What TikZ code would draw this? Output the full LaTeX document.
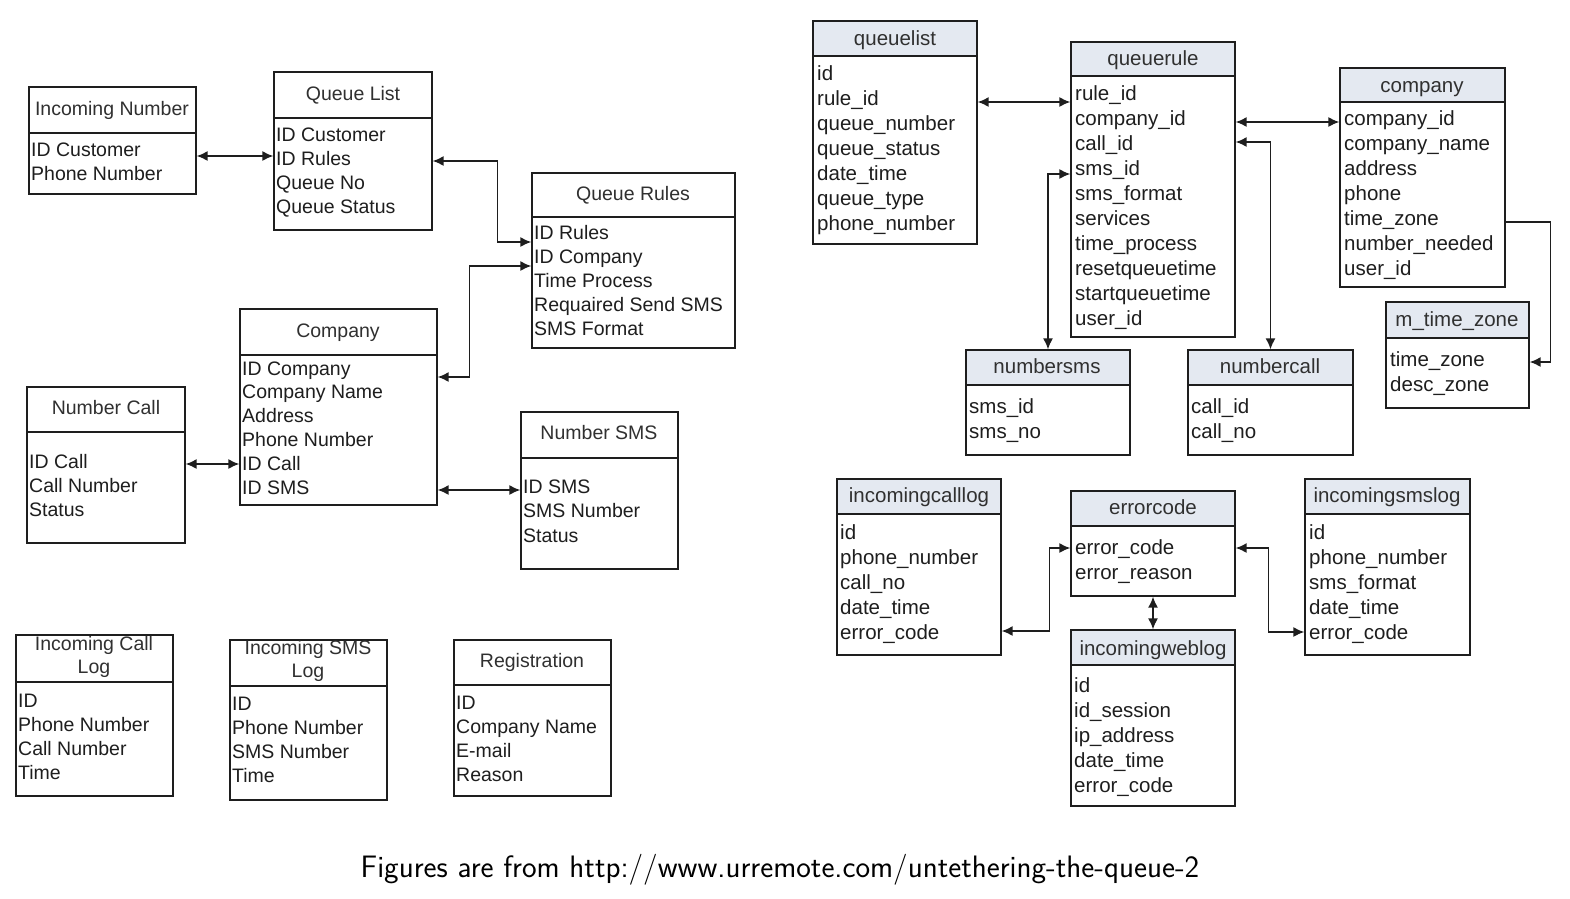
\documentclass[tikz,border=0pt]{standalone}
\usepackage{fontspec}
\setmainfont{Liberation Sans}
\usetikzlibrary{arrows.meta}
\definecolor{hdrblue}{HTML}{E4E9F1}
\definecolor{ink}{HTML}{1E1E1E}
\definecolor{ttlgray}{HTML}{303030}
\newcommand\ertab[7]{%
  \fill[#7] (#2,#3) rectangle (#4,#6);
  \node[tbox, minimum width={(#4-#2)*1pt}, minimum height={(#5-#3)*1pt}] (#1) at ({(#2+#4)/2},{(#3+#5)/2}) {};
  \draw[sepline] (#1.west |- 0,#6) -- (#1.east |- 0,#6);
}
\newcommand\ertrows[6]{%
  \foreach \t [count=\i from 0] in {#5} \node[#6] (#1-\i) at (#2,{#3+#4*\i}) {\t};
}
\tikzset{
  tbox/.style={draw=ink, line width=1.3pt, inner sep=0pt},
  sepline/.style={draw=ink, line width=2pt},
  hl/.style={fill=white},
  hr/.style={fill=hdrblue},
  ttlL/.style={font=\fontsize{19.5}{23}\selectfont, text=ttlgray, anchor=base, inner sep=0pt, align=center},
  ttlR/.style={font=\fontsize{20.5}{25}\selectfont, text=ttlgray, anchor=base, inner sep=0pt},
  rowL/.style={font=\fontsize{19.5}{24}\selectfont, text=ink, anchor=base west, inner sep=0pt},
  rowR/.style={font=\fontsize{20.5}{25}\selectfont, text=ink, anchor=base west, inner sep=0pt},
  conn/.style={draw=ink, line width=1.6pt},
  both/.style={conn, {Latex[length=11pt,width=10pt]}-{Latex[length=11pt,width=10pt]}},
  one/.style={conn, -{Latex[length=11pt,width=10pt]}},
}
\begin{document}
\begin{tikzpicture}[x=1pt,y=-1pt]
\useasboundingbox (0,0) rectangle (1570,898);
\fill[white] (0,0) rectangle (1570,898);

% ---------------- left diagram ----------------
\ertab{inum}{29}{87}{196}{194}{133}{hl}
\node[ttlL] (inum-t) at (112,115) {Incoming Number};
\ertrows{inum}{31}{156}{24}{ID Customer,Phone Number}{rowL}

\ertab{qlist}{274}{72}{432}{230}{118}{hl}
\node[ttlL] (qlist-t) at (353,100) {Queue List};
\ertrows{qlist}{276}{141}{24.3}{ID Customer,ID Rules,Queue No,Queue Status}{rowL}

\ertab{qrules}{532}{173}{735}{348}{217}{hl}
\node[ttlL] (qrules-t) at (633,200) {Queue Rules};
\ertrows{qrules}{534}{239}{24}{ID Rules,ID Company,Time Process,Requaired Send SMS,SMS Format}{rowL}

\ertab{comp}{240}{309}{437}{505}{355}{hl}
\node[ttlL] (comp-t) at (338,337) {Company};
\ertrows{comp}{242}{375}{23.8}{ID Company,Company Name,Address,Phone Number,ID Call,ID SMS}{rowL}

\ertab{ncall}{27}{387}{185}{543}{432}{hl}
\node[ttlL] (ncall-t) at (106,414) {Number Call};
\ertrows{ncall}{29}{468}{24}{ID Call,Call Number,Status}{rowL}

\ertab{nsms}{521}{412}{678}{569}{458}{hl}
\node[ttlL] (nsms-t) at (599,439) {Number SMS};
\ertrows{nsms}{523}{493}{24.5}{ID SMS,SMS Number,Status}{rowL}

\ertab{icl}{16}{635}{173}{796}{682}{hl}
\node[ttlL, anchor=center] (icl-t) at (94,657) {Incoming Call\\Log};
\ertrows{icl}{18}{707}{24}{ID,Phone Number,Call Number,Time}{rowL}

\ertab{isl}{230}{640}{387}{800}{686}{hl}
\node[ttlL, anchor=center] (isl-t) at (308,661) {Incoming SMS\\Log};
\ertrows{isl}{232}{710}{24.3}{ID,Phone Number,SMS Number,Time}{rowL}

\ertab{reg}{454}{640}{611}{796}{685}{hl}
\node[ttlL] (reg-t) at (532,667) {Registration};
\ertrows{reg}{456}{709}{24}{ID,Company Name,E-mail,Reason}{rowL}

% left connectors
\draw[both] (inum.east |- 0,156) -- (qlist.west |- 0,156);
\draw[both] (qlist.east |- 0,161) -- ++(65,0) |- (qrules.west |- 0,242);
\draw[both] (comp.east |- 0,377) -- ++(32,0) |- (qrules.west |- 0,266);
\draw[both] (ncall.east |- 0,464) -- (comp.west |- 0,464);
\draw[both] (comp.east |- 0,490) -- (nsms.west |- 0,490);

% ---------------- right diagram ----------------
\ertab{rql}{813}{21}{977}{244}{56}{hr}
\node[ttlR] (rql-t) at (895,45) {queuelist};
\ertrows{rql}{817}{80}{25.1}{id,rule\_id,queue\_number,queue\_status,date\_time,queue\_type,phone\_number}{rowR}

\ertab{rqr}{1071}{42}{1235}{337}{76}{hr}
\node[ttlR] (rqr-t) at (1153,65) {queuerule};
\ertrows{rqr}{1075}{100}{25}{rule\_id,company\_id,call\_id,sms\_id,sms\_format,services,time\_process,resetqueuetime,startqueuetime,user\_id}{rowR}

\ertab{rco}{1340}{68}{1505}{287}{102}{hr}
\node[ttlR] (rco-t) at (1422,92) {company};
\ertrows{rco}{1344}{125}{25}{company\_id,company\_name,address,phone,time\_zone,number\_needed,user\_id}{rowR}

\ertab{rtz}{1386}{302}{1529}{408}{338}{hr}
\node[ttlR] (rtz-t) at (1457,326) {m\_time\_zone};
\ertrows{rtz}{1390}{366}{25}{time\_zone,desc\_zone}{rowR}

\ertab{rns}{966}{350}{1130}{455}{385}{hr}
\node[ttlR] (rns-t) at (1047,373) {numbersms};
\ertrows{rns}{969}{413}{25}{sms\_id,sms\_no}{rowR}

\ertab{rnc}{1188}{350}{1353}{455}{385}{hr}
\node[ttlR] (rnc-t) at (1270,373) {numbercall};
\ertrows{rnc}{1191}{413}{25}{call\_id,call\_no}{rowR}

\ertab{ricl}{837}{479}{1001}{655}{514}{hr}
\node[ttlR] (ricl-t) at (919,502) {incomingcalllog};
\ertrows{ricl}{840}{539}{25}{id,phone\_number,call\_no,date\_time,error\_code}{rowR}

\ertab{rerr}{1071}{491}{1235}{596}{526}{hr}
\node[ttlR] (rerr-t) at (1153,514) {errorcode};
\ertrows{rerr}{1075}{554}{25}{error\_code,error\_reason}{rowR}

\ertab{risl}{1305}{479}{1470}{655}{514}{hr}
\node[ttlR] (risl-t) at (1387,502) {incomingsmslog};
\ertrows{risl}{1309}{539}{25}{id,phone\_number,sms\_format,date\_time,error\_code}{rowR}

\ertab{riwl}{1071}{630}{1235}{806}{665}{hr}
\node[ttlR] (riwl-t) at (1153,655) {incomingweblog};
\ertrows{riwl}{1074}{692}{25}{id,id\_session,ip\_address,date\_time,error\_code}{rowR}

% right connectors
\draw[both] (rql.east |- 0,102) -- (rqr.west |- 0,102);
\draw[both] (rqr.east |- 0,122) -- (rco.west |- 0,122);
\draw[both] (rqr.east |- 0,142) -| (rnc.north);
\draw[both] (rqr.west |- 0,174) -| (rns.north);
\draw[one] (rco.east |- 0,222) -- ++(45,0) |- (rtz.east |- 0,362);
\draw[both] (rerr.west |- 0,548) -- ++(-21,0) |- (ricl.east |- 0,631);
\draw[both] (rerr.east |- 0,548) -- ++(33,0) |- (risl.west |- 0,632);
\draw[both] (rerr.south) -- (riwl.north);

% caption
\node[font=\sffamily\fontsize{31}{36}\selectfont, anchor=base] (cap) at (780,877) {Figures are from http://www.urremote.com/untethering-the-queue-2};
\end{tikzpicture}
\end{document}
